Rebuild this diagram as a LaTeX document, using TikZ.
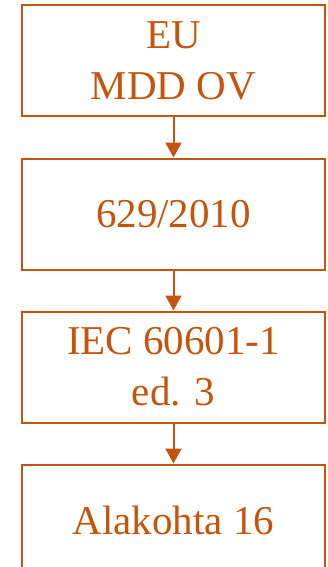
\documentclass[tikz,border=0pt]{standalone}
\usepackage{fontspec}
\setmainfont{Liberation Serif}
\usetikzlibrary{arrows.meta,positioning}
\definecolor{rust}{RGB}{197,85,12}
\tikzset{
  flow/.style={-{Triangle[length=15pt,width=16pt]},line width=2pt,draw=rust},
  box/.style={draw=rust,line width=2pt,fill=white,text=rust,align=center,
              minimum width=303pt,minimum height=111pt,inner sep=0pt,
              font=\fontsize{41}{51}\selectfont}
}
\begin{document}
\begin{tikzpicture}[node distance=40pt]
  \useasboundingbox (0,0) rectangle (327pt,-567pt);
  \node[box] (eu) at (173.5pt,-61pt) {EU\\MDD OV};
  \node[box,below=of eu] (decree) {629/2010};
  \node[box,below=of decree] (iec) {IEC 60601-1\\ed. 3};
  \node[box,below=of iec] (sub) {Alakohta 16};
  \draw[flow] (eu)--(decree);
  \draw[flow] (decree)--(iec);
  \draw[flow] (iec)--(sub);
\end{tikzpicture}
\end{document}
